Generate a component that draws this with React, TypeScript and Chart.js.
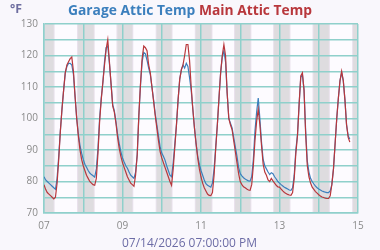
import React, { useEffect, useRef } from "react";
import { Chart, registerables } from "chart.js";

Chart.register(...registerables);

// x values are hours since 07 00:00; ticks every 24 h (one day)
const dayLabels = ["07", "08", "09", "10", "11", "12", "13", "14", "15"];
const xTitle = "07/14/2026 07:00:00 PM";
const garageLabel = "Garage Attic Temp";
const mainLabel = "Main Attic Temp";
const unitLabel = "°F";

// hourly readings, 07 00:00 .. 14 19:00
const garageTemps = [
  // 07
  81.5, 80.5, 80, 79.5, 79, 78.5, 78, 77.5, 81, 88, 96, 103, 109, 114.5, 116.5, 117.5, 117.5, 117, 114, 107, 100, 95, 91.5, 89,
  // 08
  87, 85.5, 84.5, 83.5, 82.7, 82.2, 81.8, 81.4, 84, 90.5, 100, 106.5, 111.5, 118, 122.5, 123, 117.5, 111, 104.5, 102.5, 99, 95, 92, 89.5,
  // 09
  87.5, 86.2, 85, 84.2, 83, 82, 81.5, 81, 83, 88.5, 101, 110.5, 118, 121, 120.5, 118.5, 116, 114, 110, 106, 101.5, 98, 94.5, 91,
  // 10
  89, 88, 86.8, 85, 83.5, 82, 81.5, 86, 92, 98, 106, 112.5, 115.5, 117, 116, 117.5, 116.5, 113, 109, 103, 97, 92, 88, 85.5,
  // 11
  83.5, 82, 80.5, 79.3, 78.8, 78.5, 78.2, 79.5, 84, 91, 98, 106.5, 114.5, 119.5, 121.5, 118, 108, 100, 98.5, 97, 94, 91, 88, 84.5,
  // 12
  82.5, 81.8, 81.2, 80.8, 80.5, 80.2, 80.1, 81.5, 87, 96, 102, 106.5, 100, 92.5, 87, 85, 84, 83, 82.2, 82.8, 82.5, 81.5, 80.8, 80,
  // 13
  79.5, 79, 78.6, 78.2, 77.9, 77.6, 77.3, 77.2, 78, 82, 90, 95, 104.5, 113, 114, 109, 96, 86.5, 83, 81, 80, 79.2, 78.5, 78,
  // 14
  77.6, 77.3, 77, 76.8, 76.6, 76.5, 76.5, 77, 79, 84, 92, 100, 106.5, 112, 114.5, 112, 106, 98, 94.5, 93.5,
];

const mainTemps = [
  // 07
  79, 77.5, 76.5, 76, 75.5, 75, 74.5, 75, 79.5, 87, 96, 103, 109, 114.5, 117, 118, 119, 119.5, 115, 107, 100, 94.5, 90, 87,
  // 08
  85, 83.5, 82, 81, 80, 79.5, 79, 78.8, 81, 89, 99, 106, 111.5, 117, 122, 125, 118, 111, 104, 102, 98.5, 94, 90.5, 88,
  // 09
  86, 84.5, 83, 81.5, 80.5, 79.5, 79, 78.5, 82, 88.5, 101, 111, 119, 123, 122.5, 121.5, 117, 114.5, 110, 105.5, 101, 97, 93, 89.5,
  // 10
  87.5, 86, 84.5, 83, 81.5, 80, 78.8, 84, 91, 98, 106, 112.5, 115.5, 117, 120, 123.5, 123.5, 118.5, 110, 103, 97, 92, 87.5, 84,
  // 11
  81.5, 79.5, 78, 77, 76, 75.6, 75.5, 76.5, 82, 90.5, 98, 106.5, 114.5, 120, 123.5, 120, 108, 100, 98, 96.5, 93, 89.5, 86, 82.5,
  // 12
  80, 79, 78.3, 78, 77.6, 77.3, 77.2, 79, 85, 93, 99, 103, 98, 91.5, 85.5, 83, 82, 80.5, 80, 81, 80.2, 79.5, 78.8, 78.3,
  // 13
  78.2, 77.6, 77, 76.5, 76.2, 75.9, 75.7, 75.6, 76.5, 81, 89, 94.5, 104.5, 113.5, 114.5, 109, 95, 85, 81.5, 79.5, 78.2, 77.5, 76.8, 76.3,
  // 14
  75.8, 75.4, 75.1, 74.9, 74.7, 74.6, 74.6, 75.5, 79, 84, 92, 100, 106.5, 112, 115, 112, 106, 98, 94, 92.5,
];

// night shading, [start, end] in hours since 07 00:00
const nightBands: [number, number][] = [
  [0, 6.5], [20.2, 31], [44.3, 54.6], [68.3, 78.6], [92.2, 103],
  [116.2, 126.8], [140.1, 150.7], [164.2, 174.8], [188.4, 192],
];

const GARAGE_COLOR = "#3b7fbd";
const MAIN_COLOR = "#b8373c";
const GRID_COLOR = "#8fd0cb";

const nightPlugin = {
  id: "nightBands",
  beforeDraw(chart: any) {
    const { ctx, chartArea, scales } = chart;
    const xs = scales.x;
    ctx.save();
    ctx.fillStyle = "#fdfbff";
    ctx.fillRect(chartArea.left, chartArea.top, chartArea.right - chartArea.left, chartArea.bottom - chartArea.top);
    for (const [s, e] of nightBands) {
      const x0 = Math.max(xs.getPixelForValue(s), chartArea.left);
      const x1 = Math.min(xs.getPixelForValue(e), chartArea.right);
      ctx.fillStyle = "#e9e1ec";
      ctx.fillRect(x0, chartArea.top, x1 - x0, chartArea.bottom - chartArea.top);
      ctx.fillStyle = "#dedcdf";
      ctx.fillRect(x0 + 1, chartArea.top, Math.max(0, x1 - x0 - 2), chartArea.bottom - chartArea.top);
    }
    ctx.restore();
  },
};

export default function App() {
  const ref = useRef<HTMLCanvasElement | null>(null);

  useEffect(() => {
    if (!ref.current) return;
    const chart = new Chart(ref.current, {
      type: "line",
      data: {
        datasets: [
          {
            label: mainLabel,
            data: mainTemps.map((v, i) => ({ x: i, y: v })),
            borderColor: MAIN_COLOR,
            borderWidth: 1.2,
            pointRadius: 0,
            tension: 0,
            fill: false,
          },
          {
            label: garageLabel,
            data: garageTemps.map((v, i) => ({ x: i, y: v })),
            borderColor: GARAGE_COLOR,
            borderWidth: 1.2,
            pointRadius: 0,
            tension: 0,
            fill: false,
          },
        ],
      },
      options: {
        responsive: false,
        animation: false,
        layout: { padding: { top: 24, right: 22, left: 0, bottom: 0 } },
        plugins: {
          legend: { display: false },
          tooltip: { enabled: false },
          title: { display: false },
        },
        scales: {
          x: {
            type: "linear",
            min: 0,
            max: (dayLabels.length - 1) * 24,
            afterFit: (s: any) => { s.height = 37; },
            afterBuildTicks: (s: any) => {
              s.ticks = dayLabels.map((_, i) => ({ value: i * 24 }));
            },
            ticks: {
              autoSkip: false,
              maxRotation: 0,
              padding: 7,
              color: "#8a8a8a",
              font: { family: "Open Sans", size: 10 },
              callback: (v: any) => {
                const i = Math.round(Number(v) / 24);
                return i % 2 === 0 ? dayLabels[i] : "";
              },
            },
            grid: { color: GRID_COLOR, lineWidth: 1.5, drawTicks: false },
            border: { color: GRID_COLOR, width: 1.5 },
          },
          y: {
            min: 70,
            max: 130,
            afterFit: (s: any) => { s.width = 44; },
            ticks: {
              stepSize: 5,
              padding: 6,
              color: "#8a8a8a",
              font: { family: "Open Sans", size: 10 },
              callback: (v: any) => (Number(v) % 10 === 0 ? String(v) : ""),
            },
            grid: { color: GRID_COLOR, lineWidth: 1.5, drawTicks: false },
            border: { color: GRID_COLOR, width: 1.5 },
          },
        },
      },
      plugins: [nightPlugin],
    });
    return () => chart.destroy();
  }, []);

  return (
    <div
      style={{
        position: "fixed",
        left: 0,
        top: 0,
        width: 380,
        height: 250,
        background: "#f9f7fc",
      }}
    >
      <canvas ref={ref} width={380} height={250} style={{ position: "absolute", left: 0, top: 0 }} />
      <svg
        width={380}
        height={250}
        style={{ position: "absolute", left: 0, top: 0, pointerEvents: "none" }}
        fontFamily="Open Sans, sans-serif"
      >
        <text x={10} y={13} fontSize={12.5} fontWeight={700} fill="#6e6ea0" textLength={12} lengthAdjust="spacingAndGlyphs">
          {unitLabel}
        </text>
        <text x={68} y={15} fontSize={14.5} fontWeight={700} textLength={244} lengthAdjust="spacingAndGlyphs">
          <tspan fill={GARAGE_COLOR}>{garageLabel}</tspan>
          <tspan fill={MAIN_COLOR}> {mainLabel}</tspan>
        </text>
        <text x={122} y={246.5} fontSize={12} fill="#6c6ca6" textLength={135} lengthAdjust="spacingAndGlyphs">
          {xTitle}
        </text>
      </svg>
    </div>
  );
}
